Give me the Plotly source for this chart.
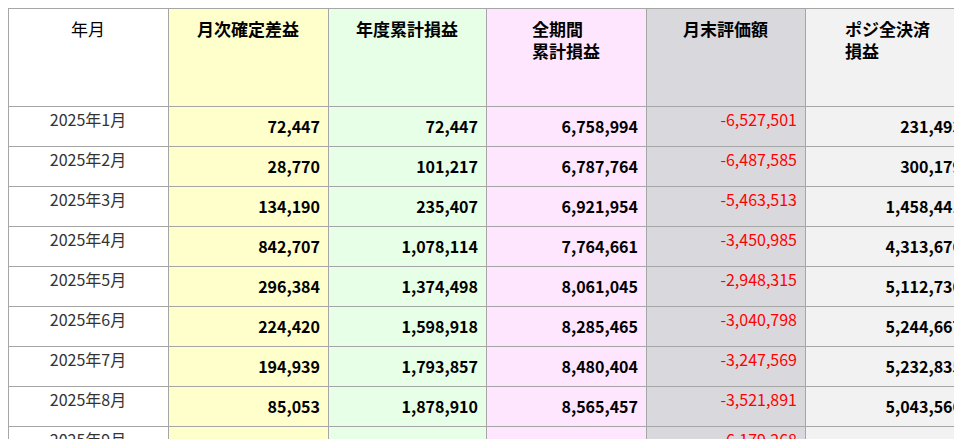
import plotly.graph_objects as go

months = ["2025年1月","2025年2月","2025年3月","2025年4月","2025年5月","2025年6月","2025年7月","2025年8月","2025年9月"]
monthly = [72447,28770,134190,842707,296384,224420,194939,85053,23084]
ytd = [72447,101217,235407,1078114,1374498,1598918,1793857,1878910,1901994]
total = [6758994,6787764,6921954,7764661,8061045,8285465,8480404,8565457,8588541]
eval_ = [-6527501,-6487585,-5463513,-3450985,-2948315,-3040798,-3247569,-3521891,-6179268]
settle = [231493,300179,1458441,4313676,5112730,5244667,5232835,5043566,2409273]
headers = ["<br>年月","<br><b>月次確定差益</b>","<br><b>年度累計損益</b>","<b>全期間</b><br><b>累計損益</b>","<br><b>月末評価額</b>","<b>ポジ全決済</b><br><b>損益</b>"]

def b(v): return [f"<b>{x:,}</b>" for x in v]
colors = ["#FFFFFF","#FFFFCC","#E6FFE6","#FFE6FF","#D9D9DD","#F2F2F2"]
n = len(months)
fig = go.Figure(go.Table(
    columnwidth=[160,160,158,160,159,165],
    header=dict(values=headers, height=98, align="center",
                fill_color=colors, line_color="#A6A6A6",
                font=dict(family="Noto Sans CJK JP", size=17, color="black")),
    cells=dict(values=[months, b(monthly), b(ytd), b(total), [f"{x:,}" for x in eval_], b(settle)],
               height=36, align=["center","right","right","right","right","right"],
               fill_color=[[c]*n for c in colors], line_color="#A6A6A6",
               font=dict(family="Noto Sans CJK JP", size=16,
                         color=["#333333","black","black","black","#FF0000","black"])),
))
fig.update_layout(width=962, height=439, margin=dict(l=0,r=0,t=0,b=0), paper_bgcolor="white")
fig.write_html("out.html")
